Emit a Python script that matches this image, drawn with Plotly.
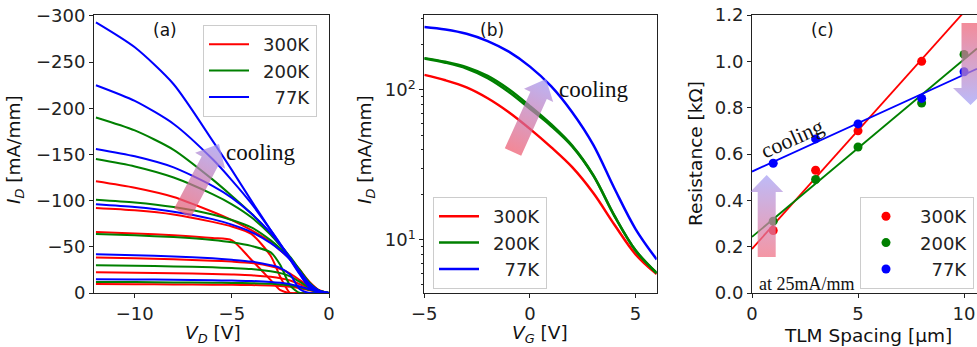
import base64
import numpy as np
import plotly.graph_objects as go

W, H = 977, 347
FONT = "DejaVu Sans"
SERIF = "Liberation Serif"
INK = "#222222"
RED, GREEN, BLUE = "#ff0000", "#008000", "#0000ff"
LABELS = ["\u2002300K", "\u2002200K", "\u2002\u200777K"]

# ---------------- (a) output curves, I_D [mA/mm] vs V_D [V] ----------------
vd = [-12, -10, -8, -6, -5, -4, -3, -2.5, -2, -1.5, -1, -0.5, 0]

out_300k = [
    [-121, -114, -104, -88, -79, -68, -55, -46, -37, -25, -12, -3, 0],
    [-92, -89.5, -85, -77, -72, -64, -40, -17, 0, 0, 0, 0, 0],
    [-66, -64.5, -62.5, -59.5, -57, -36, -14, -3, 0, 0, 0, 0, 0],
    [-38.5, -37.5, -36.5, -35, -34, -32.5, -29, -26, -21, -14, -7, -1.5, 0],
    [-22.4, -22, -21.4, -20.6, -20, -19.2, -17.5, -16, -13.5, -9.5, -5, -1.2, 0],
    [-9.7, -9.5, -9.3, -9, -8.8, -8.6, -8.1, -7.6, -6.8, -5.2, -3, -0.8, 0],
]
out_200k = [
    [-190, -176, -155, -123, -105, -86, -64, -52, -39, -25, -11, -2.5, 0],
    [-145, -137, -125, -107, -96, -82, -63, -51, -38, -24, -11, -2.5, 0],
    [-101, -98, -93, -85, -79, -71, -57, -48, -37, -24, -11, -2.5, 0],
    [-64, -62.5, -60.5, -57.5, -55, -51, -44, -30, -8, 0, 0, 0, 0],
    [-30, -29.5, -28.8, -27.8, -27, -26, -23.5, -21.5, -18, -12, -6, -1.5, 0],
    [-12, -11.8, -11.5, -11.1, -10.9, -10.6, -10, -9.3, -8.3, -6.3, -3.5, -1, 0],
]
out_77k = [
    [-293, -266, -226, -165, -133, -100, -68, -52, -36, -20, -6, -1.5, 0],
    [-225, -208, -183, -145, -122, -97, -68, -53, -37, -21, -7, -1.5, 0],
    [-156, -148, -136, -116, -103, -86, -65, -52, -38, -23, -9, -2, 0],
    [-96, -93, -88, -80, -74, -66, -54, -46, -36, -23, -10, -2.5, 0],
    [-42, -41, -39.5, -37.5, -36, -34, -30, -27, -20, -4, 0, 0, 0],
    [-15, -14.7, -14.3, -13.8, -13.4, -13, -12, -11, -9.5, -7, -4, -1, 0],
]

# ---------------- (b) transfer curves, I_D [mA/mm] vs V_G [V] ----------------
vg = [-5, -4, -3, -2, -1, 0, 1, 2, 3, 4, 5, 6]
tr_300k = [126, 116, 104, 88, 71, 55, 41.5, 30.5, 20.5, 12.6, 8.0, 5.9]
tr_200k_up = [163, 154, 142, 124, 101, 78, 59, 42.5, 27, 14.5, 8.5, 6.0]
tr_200k_dn = [162, 152, 139, 120, 97, 75, 57.5, 42, 26.8, 14.4, 8.5, 6.0]
tr_77k = [263, 253, 237, 212, 180, 143, 106, 71, 43, 22, 11.8, 7.4]

# ---------------- (c) TLM resistance [kOhm] vs spacing [um] ----------------
tlm_300k_x = [1, 3, 5, 8]
tlm_300k_r = [0.27, 0.53, 0.70, 1.00]
tlm_200k_x = [1, 3, 5, 8, 10]
tlm_200k_r = [0.31, 0.49, 0.63, 0.82, 1.03]
tlm_77k_x = [1, 3, 5, 8, 10]
tlm_77k_r = [0.56, 0.665, 0.73, 0.84, 0.955]

# subplot boxes in pixels: left, right, top, bottom
BOX_A = (94, 329, 15, 293)
BOX_B = (424.3, 656.7, 15, 293)
BOX_C = (752, 977, 15, 293)
C_XMAX = 10.61


def dom(box):
    l, r, t, b = box
    return [l / W, r / W], [1 - b / H, 1 - t / H]


def px(x, y):
    return x / W, 1 - y / H


def axis_style(**kw):
    base = dict(showline=True, linecolor=INK, linewidth=1, mirror=True,
                ticks="outside", ticklen=4, tickwidth=1, tickcolor=INK,
                showgrid=False, zeroline=False, automargin=False,
                tickfont=dict(family=FONT, size=18, color=INK))
    base.update(kw)
    return base


fig = go.Figure()

# (a)
for curves, color, name in [(out_300k, RED, LABELS[0]),
                            (out_200k, GREEN, LABELS[1]),
                            (out_77k, BLUE, LABELS[2])]:
    for i, ys in enumerate(curves):
        fig.add_trace(go.Scatter(
            x=vd, y=ys, mode="lines", name=name, legendgroup="a" + name,
            showlegend=(i == 0), legend="legend",
            line=dict(color=color, width=2, shape="spline", smoothing=0.7),
            xaxis="x", yaxis="y", hoverinfo="skip"))

# (b)
for ys, color, name, show in [(tr_300k, RED, LABELS[0], True),
                              (tr_200k_up, GREEN, LABELS[1], True),
                              (tr_200k_dn, GREEN, LABELS[1], False),
                              (tr_77k, BLUE, LABELS[2], True)]:
    fig.add_trace(go.Scatter(
        x=vg, y=ys, mode="lines", name=name, legendgroup="b" + name,
        showlegend=show, legend="legend2",
        line=dict(color=color, width=2.5, shape="spline", smoothing=1.0),
        xaxis="x2", yaxis="y2", hoverinfo="skip"))

# (c) linear fits first, then measured points
series_c = [(tlm_300k_x, tlm_300k_r, RED, LABELS[0]),
            (tlm_200k_x, tlm_200k_r, GREEN, LABELS[1]),
            (tlm_77k_x, tlm_77k_r, BLUE, LABELS[2])]
for xs, rs, color, name in series_c:
    slope, icpt = np.polyfit(xs, rs, 1)
    xl = np.array([0.0, C_XMAX])
    fig.add_trace(go.Scatter(
        x=xl, y=icpt + slope * xl, mode="lines", showlegend=False,
        line=dict(color=color, width=1.8), xaxis="x3", yaxis="y3",
        hoverinfo="skip"))
for xs, rs, color, name in series_c:
    fig.add_trace(go.Scatter(
        x=xs, y=rs, mode="markers", name=name, legend="legend3",
        legendgroup="c" + name,
        marker=dict(color=color, size=9), xaxis="x3", yaxis="y3",
        hoverinfo="skip"))

xa, ya = dom(BOX_A)
xb, yb = dom(BOX_B)
xc, yc = dom(BOX_C)

minor_log = [5, 6, 7, 8, 9, 20, 30, 40, 50, 60, 70, 80, 90, 200, 300]

leg_common = dict(font=dict(family=FONT, size=18, color=INK),
                  bgcolor="rgba(255,255,255,0.85)", bordercolor="#cccccc",
                  borderwidth=1, xanchor="left", yanchor="top",
                  itemwidth=40, tracegroupgap=0)

fig.update_layout(
    width=W, height=H, margin=dict(l=0, r=0, t=0, b=0, autoexpand=False),
    paper_bgcolor="white", plot_bgcolor="white",
    font=dict(family=FONT, size=18, color=INK),
    xaxis=axis_style(domain=xa, anchor="y", range=[-12.1, 0],
                     tickvals=[-10, -5, 0]),
    yaxis=axis_style(domain=ya, anchor="x", range=[0, -301],
                     tickvals=[0, -50, -100, -150, -200, -250, -300]),
    xaxis2=axis_style(domain=xb, anchor="y2", range=[-5, 6],
                      tickvals=[-5, 0, 5]),
    yaxis2=axis_style(domain=yb, anchor="x2", type="log",
                      range=[0.645, 2.5], tickvals=[10, 100],
                      ticktext=["10<sup>1</sup>", "10<sup>2</sup>"],
                      minor=dict(ticks="outside", ticklen=2.5,
                                 tickcolor=INK, tickvals=minor_log)),
    xaxis3=axis_style(domain=xc, anchor="y3", range=[0, C_XMAX],
                      tickvals=[0, 5, 10]),
    yaxis3=axis_style(domain=yc, anchor="x3", range=[0, 1.2], mirror=False,
                      tickvals=[0, 0.2, 0.4, 0.6, 0.8, 1.0, 1.2],
                      tickformat=".1f"),
    legend=dict(x=203 / W, y=1 - 25 / H, **leg_common),
    legend2=dict(x=433 / W, y=1 - 197 / H, **leg_common),
    legend3=dict(x=860 / W, y=1 - 197 / H, **leg_common),
)

# text labels
notes = [
    ("(a)", 165, 30, 0, FONT, 17),
    ("(b)", 492, 30, 0, FONT, 17),
    ("(c)", 822, 30, 0, FONT, 17),
    ("<i>I</i><sub><i>D</i></sub> [mA/mm]", 15, 150, -90, FONT, 18.5),
    ("<i>V</i><sub><i>D</i></sub> [V]", 213, 334, 0, FONT, 18.5),
    ("<i>I</i><sub><i>D</i></sub> [mA/mm]", 366, 150, -90, FONT, 18.5),
    ("<i>V</i><sub><i>G</i></sub> [V]", 540, 334, 0, FONT, 18.5),
    ("Resistance [k\u03a9]", 695, 154, -90, FONT, 18.5),
    ("TLM Spacing [\u03bcm]", 868, 335, 0, FONT, 18.5),
    ("cooling", 260, 152, 0, SERIF, 23),
    ("cooling", 593, 89, 0, SERIF, 23),
    ("cooling", 792, 138, -24, SERIF, 22),
    ("at 25mA/mm", 807, 284, 0, SERIF, 18),
]
for text, x, y, ang, fam, size in notes:
    ax_, ay_ = px(x, y)
    fig.add_annotation(text=text, x=ax_, y=ay_, xref="paper", yref="paper",
                       xanchor="center", yanchor="middle", showarrow=False,
                       textangle=ang, font=dict(family=fam, size=size,
                                                color="#111111"))


# translucent gradient arrows, drawn as an svg overlay
def arrow_points(tail, tip, w, hw, hl):
    t = np.array(tail, float)
    p = np.array(tip, float)
    d = (p - t) / np.linalg.norm(p - t)
    n = np.array([-d[1], d[0]])
    b = p - d * hl
    pts = [t + n * w / 2, b + n * w / 2, b + n * hw / 2, p,
           b - n * hw / 2, b - n * w / 2, t - n * w / 2]
    return " ".join(f"{x:.1f},{y:.1f}" for x, y in pts)


arrows = [
    ((182.5, 213), (219, 144), "rgb(232,90,112)", "rgb(160,150,242)", 19, 34, 19),
    ((513, 152), (546, 79), "rgb(238,90,110)", "rgb(160,150,242)", 18, 32, 18),
    ((766.7, 257), (766.7, 175), "rgb(240,110,130)", "rgb(165,160,245)", 18, 33, 17),
    ((970.5, 23), (970.5, 105), "rgb(238,95,115)", "rgb(160,160,248)", 18, 35, 17),
]
defs, polys = [], []
for i, (tail, tip, c0, c1, w, hw, hl) in enumerate(arrows):
    defs.append(
        f'<linearGradient id="g{i}" gradientUnits="userSpaceOnUse" '
        f'x1="{tail[0]}" y1="{tail[1]}" x2="{tip[0]}" y2="{tip[1]}">'
        f'<stop offset="0" stop-color="{c0}"/>'
        f'<stop offset="1" stop-color="{c1}"/></linearGradient>')
    polys.append(f'<polygon points="{arrow_points(tail, tip, w, hw, hl)}" '
                 f'fill="url(#g{i})" fill-opacity="0.72"/>')
svg = (f'<svg xmlns="http://www.w3.org/2000/svg" width="{W}" height="{H}" '
       f'viewBox="0 0 {W} {H}" preserveAspectRatio="none">'
       f'<defs>{"".join(defs)}</defs>{"".join(polys)}</svg>')
src = "data:image/svg+xml;base64," + base64.b64encode(svg.encode()).decode()
fig.add_layout_image(dict(source=src, xref="paper", yref="paper", x=0, y=1,
                          sizex=1, sizey=1, xanchor="left", yanchor="top",
                          sizing="stretch", layer="above"))

fig.write_html("out.html")
